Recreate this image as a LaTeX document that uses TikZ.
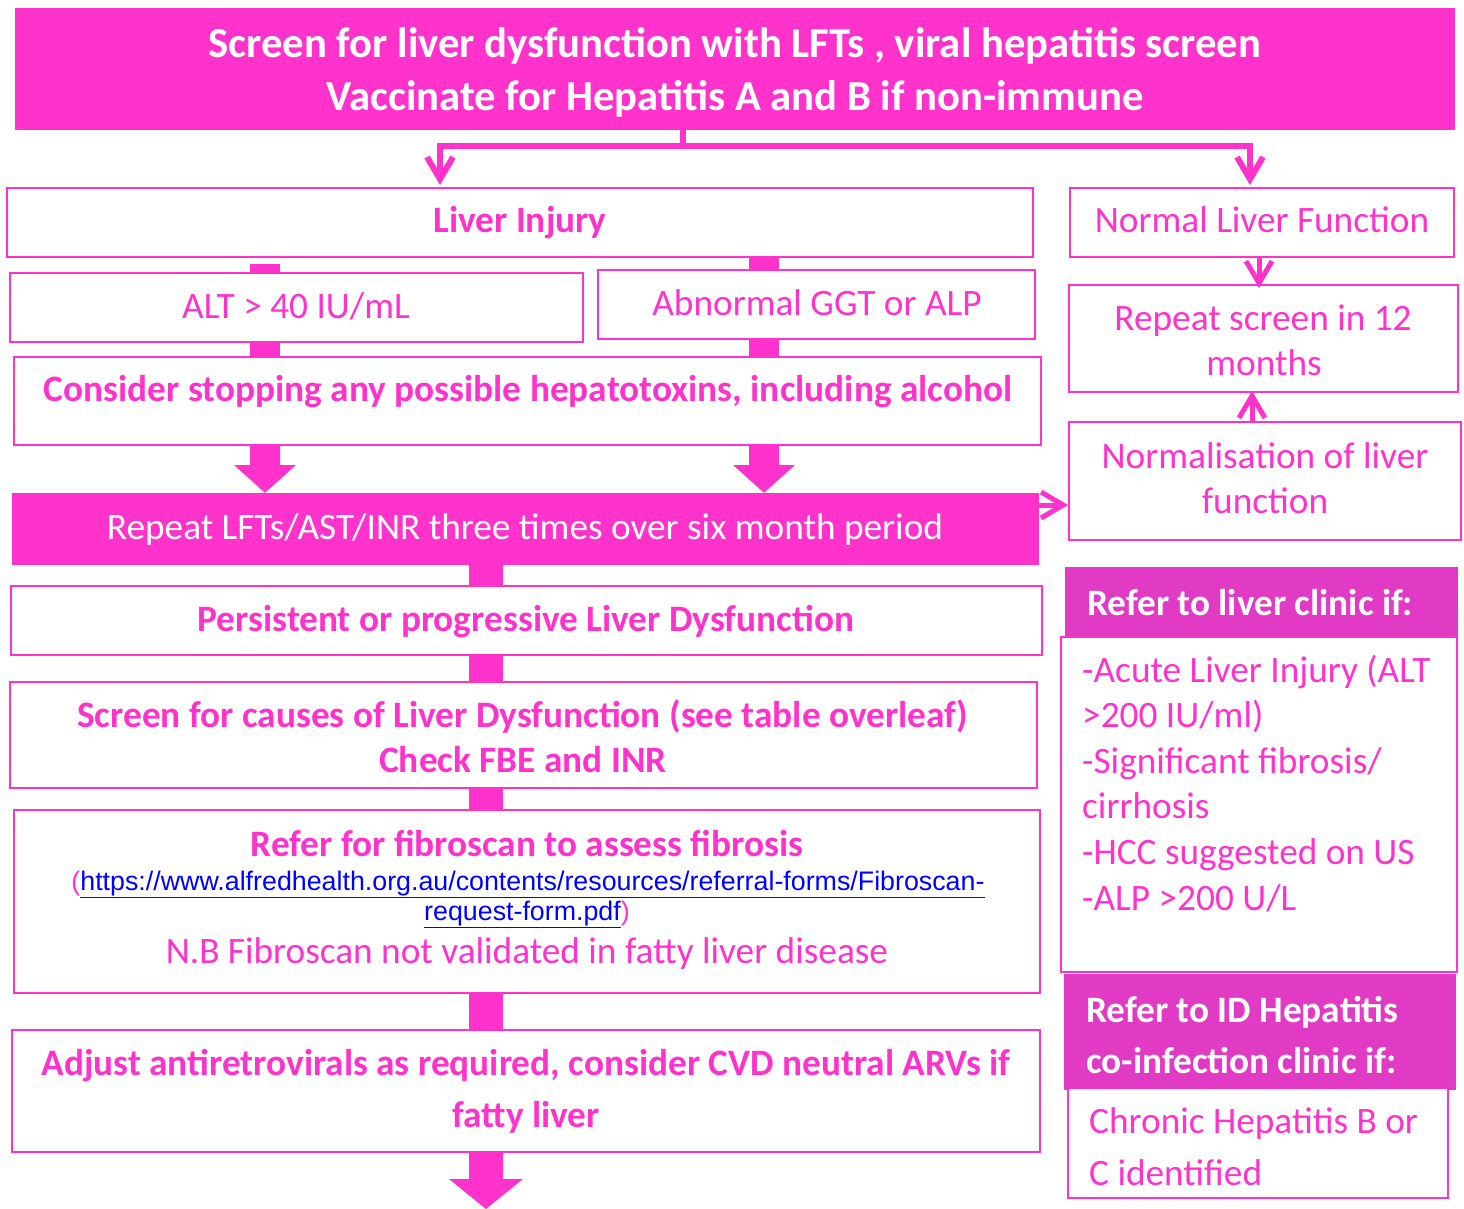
\documentclass[tikz,border=0pt]{standalone}
\usepackage{fontspec}
\setmainfont{Carlito}
\newfontfamily\linkfont{Liberation Sans}
\usetikzlibrary{arrows.meta,calc,fit}
\definecolor{pk}{HTML}{FF33CC}
\definecolor{hd}{HTML}{E13BC5}
\definecolor{lk}{HTML}{0000FF}
\begin{document}
\begin{tikzpicture}[x=1pt,y=-1pt,
  box/.style={draw=pk,line width=2pt,inner sep=0pt,fill=white},
  solid box/.style={fill=pk,inner sep=0pt},
  head box/.style={fill=hd,inner sep=0pt},
  t/.style={anchor=base,inner sep=0pt,text=pk,font=\fontsize{37.3}{44}\selectfont},
  tb/.style={t,font=\fontsize{37.3}{44}\selectfont\bfseries},
  tw/.style={t,text=white},
  twb/.style={tb,text=white},
  ttop/.style={twb,font=\fontsize{42.7}{50}\selectfont\bfseries},
  tl/.style={t,anchor=base west},
  twl/.style={twb,anchor=base west},
  tlink/.style={anchor=base,inner sep=0pt,text=pk,font=\linkfont\fontsize{26.8}{30}\selectfont},
  cn/.style={draw=pk,line width=6pt},
  thin cn/.style={draw=pk,line width=5pt},
  barb/.style={-{Straight Barb[length=22pt,width=26pt]}},
]
\useasboundingbox (0,0) rectangle (1464,1209);

% ---------- boxes ----------
\node[solid box,fit={(15,8)(1455,130)}] (top) {};
\node[box,fit={(7,188)(1033,257)}] (inj) {};
\node[box,fit={(1070,188)(1454,257)}] (nlf) {};
\node[box,fit={(10,273)(583,342)}] (alt) {};
\node[box,fit={(598,270)(1035,339)}] (ggt) {};
\node[box,fit={(14,357)(1041,445)}] (cons) {};
\node[solid box,fit={(12,493)(1039,565)}] (rep) {};
\node[box,fit={(11,586)(1042,655)}] (pers) {};
\node[box,fit={(10,682)(1037,788)}] (caus) {};
\node[box,fit={(14,810)(1040,993)}] (fib) {};
\node[box,fit={(12,1030)(1040,1152)}] (adj) {};
\node[box,fit={(1069,285)(1458,392)}] (rps) {};
\node[box,fit={(1069,422)(1461,540)}] (nrm) {};
\node[head box,fit={(1065,567)(1458,637)}] (lch) {};
\node[box,fit={(1061,637)(1457,972)}] (lcb) {};
\node[head box,fit={(1064,974)(1456,1090)}] (idh) {};
\node[box,fit={(1068,1088)(1448,1198)}] (idb) {};

% ---------- thin connectors ----------
\coordinate (sp) at (683,146);
\coordinate (jl) at (440,146);
\coordinate (jr) at (1250,146);
\draw[cn] (top.south -| sp) -- (sp);
\draw[cn,barb] (sp) -- (jl) -- ($(jl |- inj.north)+(0,-2)$);
\draw[cn,barb] (sp) -- (jr) -- ($(jr |- nlf.north)+(0,-2)$);

\coordinate (rx1) at (1259,0);
\coordinate (rx2) at (1252,0);
\coordinate (ry) at (0,505);
\draw[thin cn,barb] (nlf.south -| rx1) -- ($(rps.north -| rx1)+(0,4)$);
\draw[thin cn,barb] (nrm.north -| rx2) -- ($(rps.south -| rx2)+(0,-2)$);
\draw[thin cn,barb] (rep.east |- ry) -- (nrm.west |- ry);

% ---------- thick bars and block arrows ----------
\coordinate (cA) at (265,0);
\coordinate (cB) at (764,0);
\coordinate (cM) at (486,0);
\fill[pk] ($(inj.south -| cA)+(-15,6)$) rectangle ($(alt.north -| cA)+(15,0)$);
\fill[pk] ($(inj.south -| cB)+(-15,0)$) rectangle ($(ggt.north -| cB)+(15,0)$);
\fill[pk] ($(alt.south -| cA)+(-15,0)$) rectangle ($(cons.north -| cA)+(15,0)$);
\fill[pk] ($(ggt.south -| cB)+(-15,0)$) rectangle ($(cons.north -| cB)+(15,0)$);
\foreach \c in {cA,cB}{
  \fill[pk] ($(cons.south -| \c)+(-15,0)$) -- ++(0,19) -- ++(-16,0)
    -- (rep.north -| \c) -- ($(cons.south -| \c)+(31,19)$) -- ++(-16,0)
    -- ($(cons.south -| \c)+(15,0)$) -- cycle;
}
\fill[pk] ($(rep.south -| cM)+(-17,0)$) rectangle ($(pers.north -| cM)+(17,0)$);
\fill[pk] ($(pers.south -| cM)+(-17,0)$) rectangle ($(caus.north -| cM)+(17,0)$);
\fill[pk] ($(caus.south -| cM)+(-17,0)$) rectangle ($(fib.north -| cM)+(17,0)$);
\fill[pk] ($(fib.south -| cM)+(-17,0)$) rectangle ($(adj.north -| cM)+(17,0)$);
\coordinate (endM) at (486,1209);
\fill[pk] ($(adj.south -| cM)+(-17,0)$) -- ++(0,26) -- ++(-20,0) -- (endM)
  -- ($(adj.south -| cM)+(37,26)$) -- ++(-20,0) -- ($(adj.south -| cM)+(17,0)$) -- cycle;

% ---------- texts ----------
\node[ttop] (top1) at (735,58) {Screen for liver dysfunction with LFTs , viral hepatitis screen};
\node[ttop] (top2) at (735,111) {Vaccinate for Hepatitis A and B if non-immune};
\node[tb] (injt) at (520,233) {Liver Injury};
\node[t] (nlft) at (1262,233) {Normal Liver Function};
\node[t] (altt) at (296,318) {ALT > 40 IU/mL};
\node[t] (ggtt) at (817,315) {Abnormal GGT or ALP};
\node[tb] (const) at (528,401) {Consider stopping any possible hepatotoxins, including alcohol};
\node[tw] (rept) at (525,539) {Repeat LFTs/AST/INR three times over six month period};
\node[tb] (perst) at (526,631) {Persistent or progressive Liver Dysfunction};
\node[tb] (caus1) at (523,727) {Screen for causes of Liver Dysfunction (see table overleaf)};
\node[tb] (caus2) at (523,772) {Check FBE and INR};
\node[tb] (fib1) at (527,856) {Refer for fibroscan to assess fibrosis};
\node[tlink] (fib2) at (528,890) {(\textcolor{lk}{\underline{https://www.alfredhealth.org.au/contents/resources/referral-forms/Fibroscan-}}};
\node[tlink] (fib3) at (527,920) {\textcolor{lk}{\underline{request-form.pdf}})};
\node[t] (fib4) at (527,963) {N.B Fibroscan not validated in fatty liver disease};
\node[tb] (adj1) at (526,1075) {Adjust antiretrovirals as required, consider CVD neutral ARVs if};
\node[tb] (adj2) at (526,1127) {fatty liver};
\node[t] (rps1) at (1263,330) {Repeat screen in 12};
\node[t] (rps2) at (1264,375) {months};
\node[t] (nrm1) at (1265,468) {Normalisation of liver};
\node[t] (nrm2) at (1265,513) {function};
\node[twl] (lcht) at (1087,615) {Refer to liver clinic if:};
\node[tl] (lc1) at (1082,682) {-Acute Liver Injury (ALT};
\node[tl] (lc2) at (1082,727) {>200 IU/ml)};
\node[tl] (lc3) at (1082,773) {-Significant fibrosis/};
\node[tl] (lc4) at (1082,818) {cirrhosis};
\node[tl] (lc5) at (1082,864) {-HCC suggested on US};
\node[tl] (lc6) at (1082,910) {-ALP >200 U/L};
\node[twl] (idh1) at (1086,1022) {Refer to ID Hepatitis};
\node[twl] (idh2) at (1086,1073) {co-infection clinic if:};
\node[tl] (idb1) at (1089,1133) {Chronic Hepatitis B or};
\node[tl] (idb2) at (1089,1185) {C identified};
\end{tikzpicture}
\end{document}
